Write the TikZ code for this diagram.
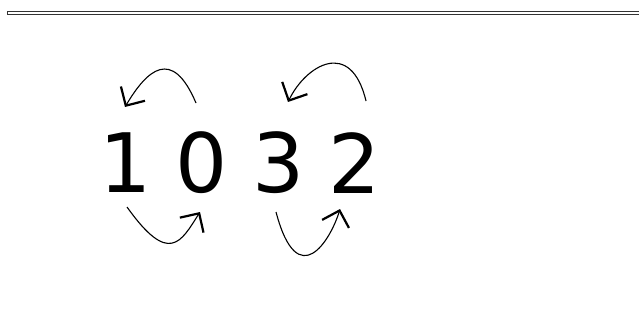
\documentclass[tikz,border=0pt]{standalone}
\usepackage{fontspec}
\setmainfont{DejaVu Sans}
\usetikzlibrary{arrows.meta,calc}

\begin{document}
\begin{tikzpicture}[
x=1pt, y=-1pt,
digit/.style={inner sep=0pt, font=\fontsize{82}{90}\selectfont},
swap/.style={-{Straight Barb[length=14pt, width=28pt, line width=2.2pt]}, line width=1.1pt}
]
\useasboundingbox (0,0) rectangle (639,331);

% Top rule
\draw[line width=1pt, black!80] (7,11.5) rectangle (650,14.5);

% Digits
\node[digit] (d1) at (126,163) {1};
\node[digit] (d0) at (202,163) {0};
\node[digit] (d3) at (279,163) {3};
\node[digit] (d2) at (355,163) {2};

% Swaps of the first pair
\draw[swap] ($(d0)+(-6,-60)$) .. controls ($(d0)+(-30,-116.5)$) and ($(d1)+(21,-93)$) .. ($(d1)+(-1,-56)$);
\draw[swap] ($(d1)+(1,44)$) .. controls ($(d1)+(43,103)$) and ($(d0)+(-21,79)$) .. ($(d0)+(-2,49)$);

% Swaps of the second pair
\draw[swap] ($(d2)+(11,-62)$) .. controls ($(d2)+(-4,-125)$) and ($(d3)+(27,-98)$) .. ($(d3)+(9,-61)$);
\draw[swap] ($(d3)+(-3,49)$) .. controls ($(d3)+(19,132)$) and ($(d2)+(-24,76)$) .. ($(d2)+(-15,46)$);

\end{tikzpicture}
\end{document}
